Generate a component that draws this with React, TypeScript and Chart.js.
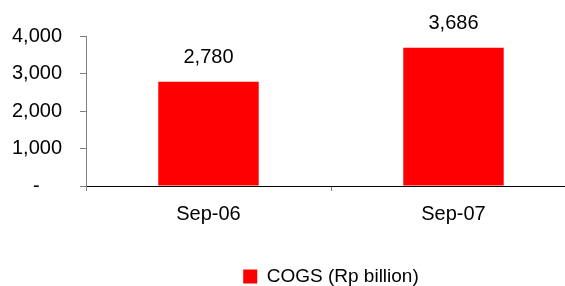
import React, { useEffect, useRef } from "react";
import { Chart, registerables } from "chart.js";

Chart.register(...registerables);

const categories = ["Sep-06", "Sep-07"];
const seriesLabel = "COGS (Rp billion)";
const cogs = [2780, 3686];
const yMin = 0;
const yMax = 4000;
const yStep = 1000;

const FONT = "'Liberation Sans', Arial, sans-serif";
const fmt = (v: number) => (v === 0 ? "-    " : v.toLocaleString("en-US"));

const valueLabels = {
  id: "valueLabels",
  afterDatasetsDraw(chart: any) {
    const ctx = chart.ctx;
    const meta = chart.getDatasetMeta(0);
    ctx.save();
    ctx.font = `20px ${FONT}`;
    ctx.fillStyle = "#000";
    ctx.textAlign = "center";
    ctx.textBaseline = "middle";
    meta.data.forEach((bar: any, i: number) => {
      const v = chart.data.datasets[0].data[i];
      ctx.fillText(v.toLocaleString("en-US"), bar.x, bar.y - 24);
    });
    ctx.restore();
  },
};

export default function App() {
  const ref = useRef<HTMLCanvasElement>(null);
  useEffect(() => {
    if (!ref.current) return;
    const chart = new Chart(ref.current, {
      type: "bar",
      data: {
        labels: categories,
        datasets: [
          {
            label: seriesLabel,
            data: cogs,
            backgroundColor: "#ff0000",
            borderWidth: 0,
            barPercentage: 0.41,
            categoryPercentage: 1,
          },
        ],
      },
      options: {
        responsive: false,
        animation: false,
        layout: { padding: { top: 36, right: 4, left: 0, bottom: -10 } },
        plugins: {
          tooltip: { enabled: false },
          legend: {
            position: "bottom",
            fullSize: false,
            labels: {
              font: { family: FONT, size: 19 },
              color: "#000",
              boxWidth: 14,
              boxHeight: 14,
              padding: 4,
            },
          },
        },
        scales: {
          x: {
            grid: {
              display: true,
              drawOnChartArea: false,
              drawTicks: true,
              tickLength: 5,
              color: "#808080",
            },
            border: { display: true, color: "#000", width: 1 },
            ticks: {
              font: { family: FONT, size: 20 },
              color: "#000",
              padding: 11,
              maxRotation: 0,
            },
            afterFit: (s: any) => {
              s.height = 77;
            },
          },
          y: {
            min: yMin,
            max: yMax,
            grid: {
              display: true,
              drawOnChartArea: false,
              drawTicks: true,
              tickLength: 6,
              color: "#808080",
            },
            border: { display: true, color: "#808080", width: 1 },
            ticks: {
              stepSize: yStep,
              font: { family: FONT, size: 20 },
              color: "#000",
              padding: 18,
              callback: (v: any) => fmt(Number(v)),
            },
            afterFit: (s: any) => {
              s.width = 86;
            },
          },
        },
      },
      plugins: [valueLabels],
    });
    return () => chart.destroy();
  }, []);
  return (
    <div
      style={{
        position: "fixed",
        left: 0,
        top: 0,
        width: 565,
        height: 286,
        overflow: "hidden",
        background: "#fff",
      }}
    >
      <canvas ref={ref} width={580} height={286} style={{ display: "block" }} />
    </div>
  );
}
